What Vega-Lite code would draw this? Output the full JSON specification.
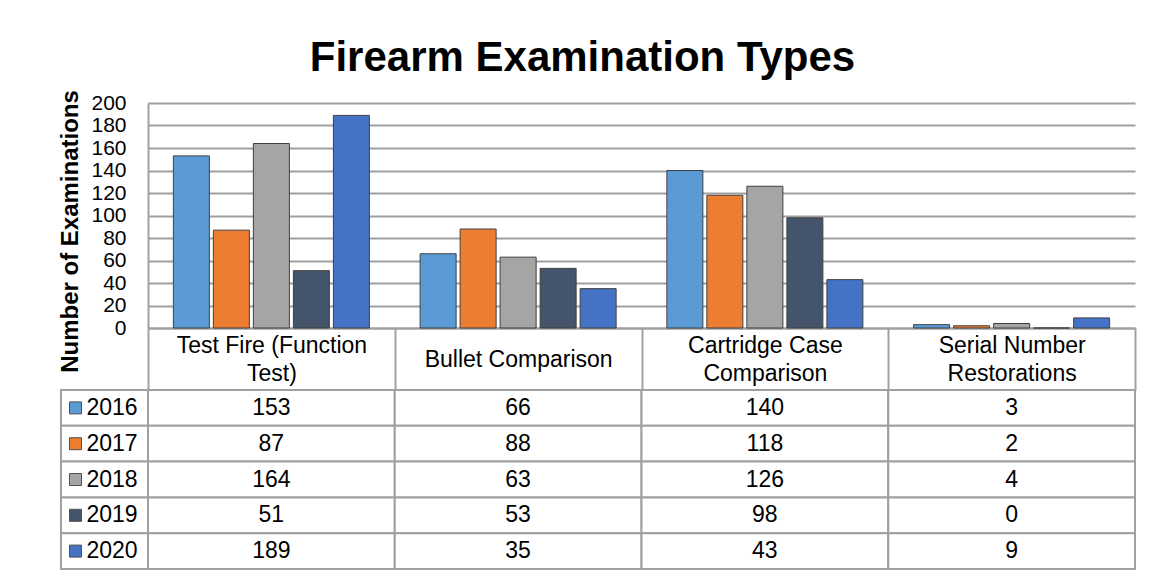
{
  "$schema": "https://vega.github.io/schema/vega-lite/v6.json",
  "background": "white",
  "padding": {"left": 58, "top": 36, "right": 10, "bottom": 5},
  "title": {"text": "Firearm Examination Types", "fontSize": 42, "fontWeight": "bold", "color": "black", "anchor": "middle", "dx": -15, "offset": 10},
  "datasets": {
    "rows": [
      {"category": "Test Fire (Function Test)", "year": "2016", "value": 153},
      {"category": "Test Fire (Function Test)", "year": "2017", "value": 87},
      {"category": "Test Fire (Function Test)", "year": "2018", "value": 164},
      {"category": "Test Fire (Function Test)", "year": "2019", "value": 51},
      {"category": "Test Fire (Function Test)", "year": "2020", "value": 189},
      {"category": "Bullet Comparison", "year": "2016", "value": 66},
      {"category": "Bullet Comparison", "year": "2017", "value": 88},
      {"category": "Bullet Comparison", "year": "2018", "value": 63},
      {"category": "Bullet Comparison", "year": "2019", "value": 53},
      {"category": "Bullet Comparison", "year": "2020", "value": 35},
      {"category": "Cartridge Case Comparison", "year": "2016", "value": 140},
      {"category": "Cartridge Case Comparison", "year": "2017", "value": 118},
      {"category": "Cartridge Case Comparison", "year": "2018", "value": 126},
      {"category": "Cartridge Case Comparison", "year": "2019", "value": 98},
      {"category": "Cartridge Case Comparison", "year": "2020", "value": 43},
      {"category": "Serial Number Restorations", "year": "2016", "value": 3},
      {"category": "Serial Number Restorations", "year": "2017", "value": 2},
      {"category": "Serial Number Restorations", "year": "2018", "value": 4},
      {"category": "Serial Number Restorations", "year": "2019", "value": 0},
      {"category": "Serial Number Restorations", "year": "2020", "value": 9}
    ]
  },
  "columns": 2,
  "bounds": "flush",
  "spacing": {"row": 62, "column": 0},
  "concat": [
    {
      "width": 87, "height": 225,
      "data": {"values": []},
      "mark": {"type": "point", "opacity": 0},
      "encoding": {}
    },
    {
      "width": 987, "height": 225,
      "data": {"name": "rows"},
      "mark": {"type": "bar", "stroke": "#404040", "strokeWidth": 1},
      "encoding": {
        "x": {
          "field": "category", "type": "nominal", "sort": null,
          "scale": {"paddingInner": 0, "paddingOuter": 0},
          "axis": {
            "title": null, "domain": true, "domainColor": "#a0a0a0", "domainWidth": 2,
            "ticks": true, "tickBand": "extent", "tickSize": 62, "tickColor": "#a0a0a0", "tickWidth": 2,
            "labelAngle": 0, "labelFontSize": 23, "labelColor": "black", "labelBaseline": "middle",
            "labelPadding": {"condition": {"test": "datum.value == 'Bullet Comparison'", "value": -31}, "value": -45},
            "labelLineHeight": 28, "labelLimit": 400, "labelOverlap": false,
            "labelExpr": "datum.value == 'Test Fire (Function Test)' ? ['Test Fire (Function', 'Test)'] : datum.value == 'Cartridge Case Comparison' ? ['Cartridge Case', 'Comparison'] : datum.value == 'Serial Number Restorations' ? ['Serial Number', 'Restorations'] : datum.value"
          }
        },
        "xOffset": {
          "field": "year", "type": "nominal",
          "scale": {"paddingInner": 0.1, "paddingOuter": 0.634}
        },
        "y": {
          "field": "value", "type": "quantitative",
          "scale": {"domain": [0, 200], "nice": false},
          "axis": {
            "title": "Number of Examinations", "titleFontSize": 24, "titleFontWeight": "bold", "titleColor": "black",
            "titleY": 128, "titlePadding": 8,
            "values": [0, 20, 40, 60, 80, 100, 120, 140, 160, 180, 200],
            "grid": true, "gridColor": "#a0a0a0", "gridWidth": 2,
            "domain": true, "domainColor": "#a0a0a0", "domainWidth": 2,
            "ticks": false, "labelFontSize": 21, "labelColor": "black", "labelPadding": 22
          }
        },
        "color": {
          "field": "year", "type": "nominal",
          "scale": {"domain": ["2016", "2017", "2018", "2019", "2020"], "range": ["#5B9BD5", "#ED7D31", "#A5A5A5", "#44546A", "#4472C4"]},
          "legend": null
        }
      }
    },
    {
      "width": 87, "height": 179,
      "data": {"name": "rows"},
      "transform": [{"aggregate": [{"op": "count", "as": "n"}], "groupby": ["year"]}],
      "encoding": {
        "y": {"field": "year", "type": "nominal", "sort": null, "scale": {"paddingInner": 0, "paddingOuter": 0}, "axis": null}
      },
      "layer": [
        {"mark": {"type": "rect", "fill": "white", "stroke": "#a0a0a0", "strokeWidth": 2}},
        {
          "mark": {"type": "point", "shape": "square", "size": 144, "filled": true, "stroke": "#505050", "strokeWidth": 1, "opacity": 1, "xOffset": -29},
          "encoding": {
            "color": {
              "field": "year", "type": "nominal",
              "scale": {"domain": ["2016", "2017", "2018", "2019", "2020"], "range": ["#5B9BD5", "#ED7D31", "#A5A5A5", "#44546A", "#4472C4"]},
              "legend": null
            }
          }
        },
        {
          "mark": {"type": "text", "align": "left", "baseline": "middle", "dx": -18, "fontSize": 23, "color": "black"},
          "encoding": {"text": {"field": "year"}}
        }
      ]
    },
    {
      "width": 987, "height": 179,
      "data": {"name": "rows"},
      "encoding": {
        "x": {"field": "category", "type": "nominal", "sort": null, "scale": {"paddingInner": 0, "paddingOuter": 0}, "axis": null},
        "y": {"field": "year", "type": "nominal", "sort": null, "scale": {"paddingInner": 0, "paddingOuter": 0}, "axis": null}
      },
      "layer": [
        {"mark": {"type": "rect", "fill": "white", "stroke": "#a0a0a0", "strokeWidth": 2}},
        {
          "mark": {"type": "text", "align": "center", "baseline": "middle", "fontSize": 23, "color": "black"},
          "encoding": {"text": {"field": "value", "type": "quantitative"}}
        }
      ]
    }
  ],
  "config": {
    "view": {"stroke": null},
    "font": "Liberation Sans"
  }
}
